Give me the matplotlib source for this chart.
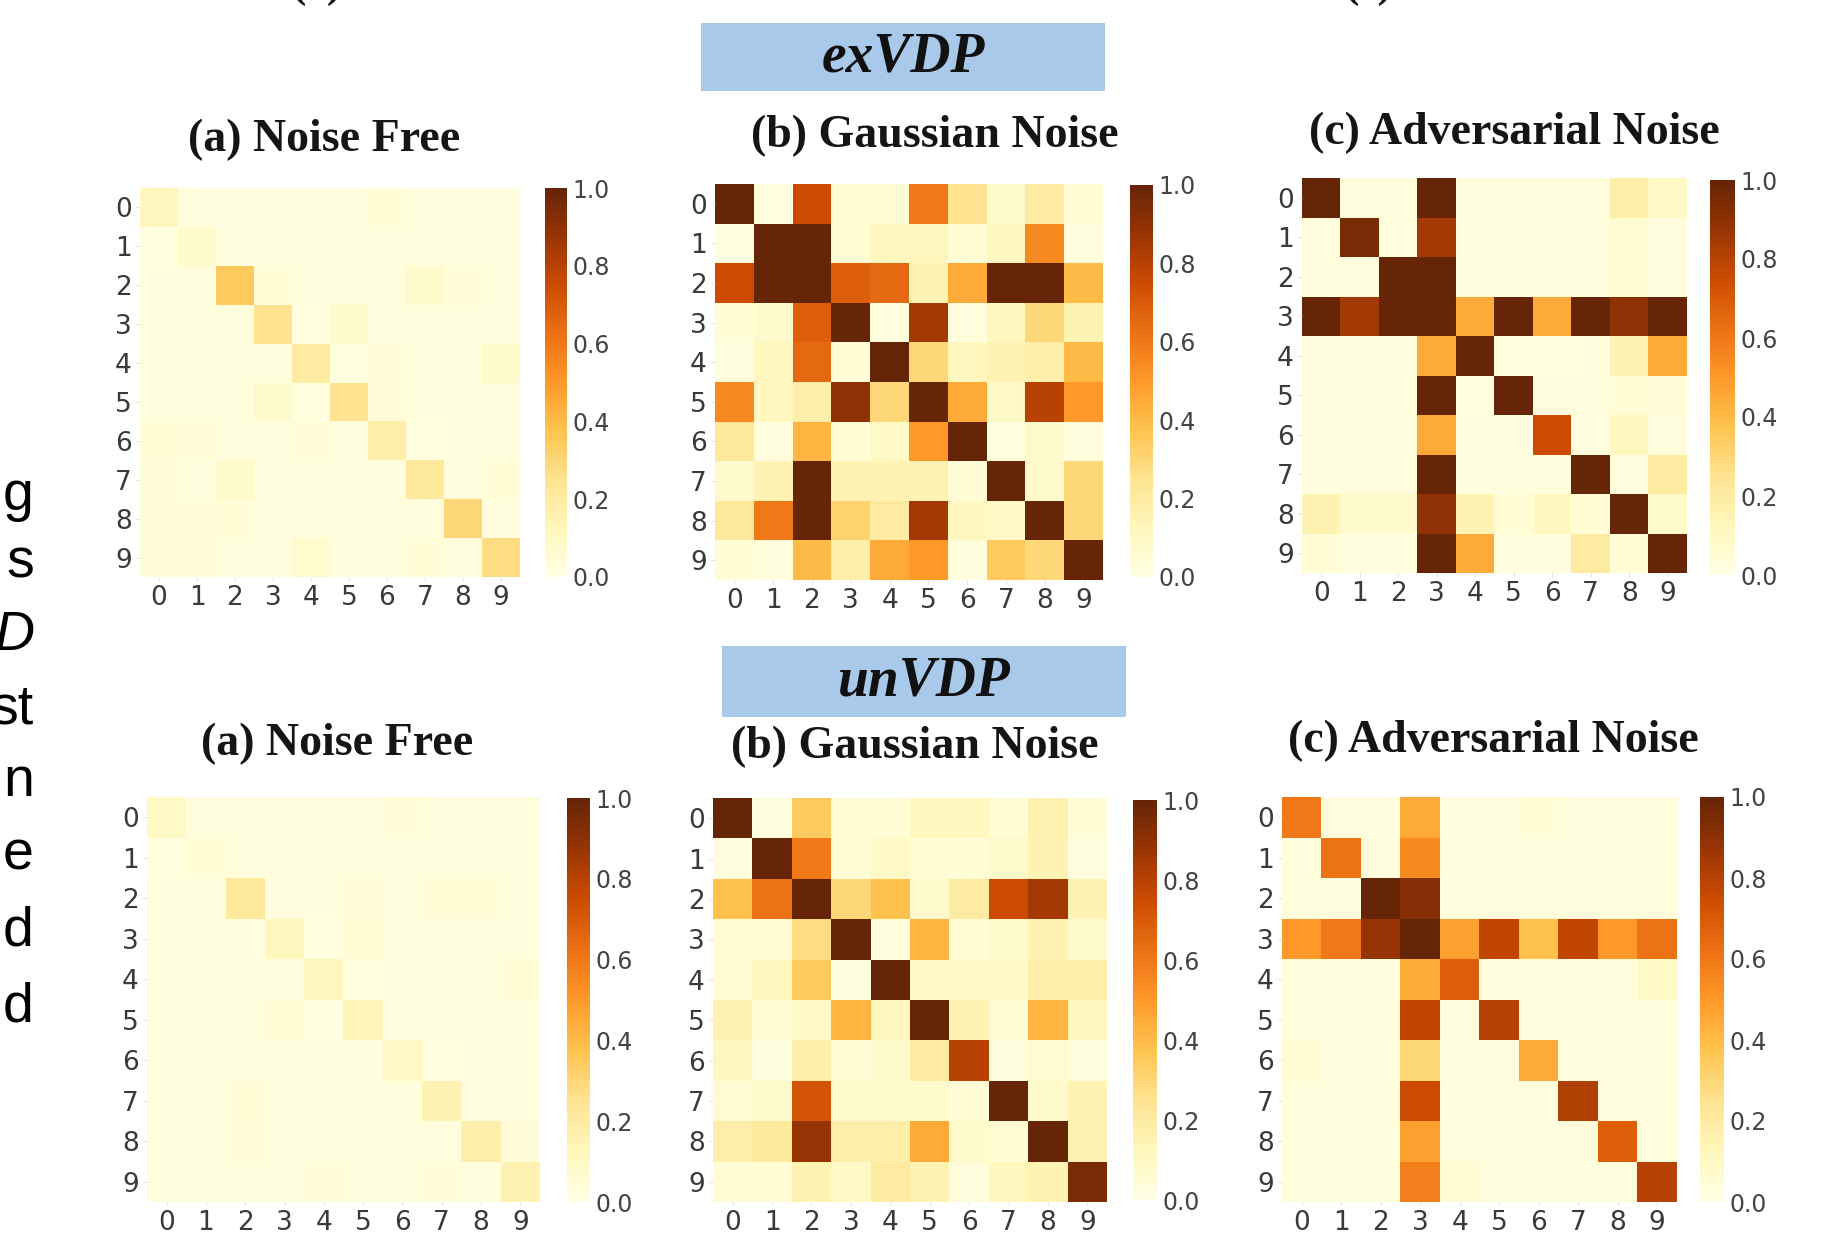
import numpy as np
import matplotlib
matplotlib.use("Agg")
import matplotlib.pyplot as plt
from matplotlib.patches import Rectangle

W, H = 1833, 1233

labels = [str(i) for i in range(10)]
cbar_ticks = [0.0, 0.2, 0.4, 0.6, 0.8, 1.0]

ex_free = [
    [0.12, 0.03, 0.03, 0.03, 0.03, 0.03, 0.05, 0.03, 0.03, 0.03],
    [0.02, 0.08, 0.03, 0.03, 0.03, 0.03, 0.03, 0.03, 0.03, 0.03],
    [0.03, 0.03, 0.35, 0.05, 0.03, 0.03, 0.03, 0.08, 0.04, 0.03],
    [0.03, 0.03, 0.03, 0.25, 0.02, 0.08, 0.03, 0.03, 0.03, 0.03],
    [0.03, 0.03, 0.03, 0.03, 0.20, 0.02, 0.04, 0.03, 0.03, 0.08],
    [0.03, 0.03, 0.03, 0.08, 0.02, 0.25, 0.04, 0.03, 0.03, 0.03],
    [0.05, 0.04, 0.03, 0.03, 0.04, 0.03, 0.18, 0.02, 0.03, 0.03],
    [0.04, 0.03, 0.08, 0.03, 0.03, 0.03, 0.03, 0.22, 0.03, 0.05],
    [0.04, 0.04, 0.05, 0.03, 0.03, 0.03, 0.03, 0.03, 0.30, 0.03],
    [0.04, 0.04, 0.03, 0.03, 0.07, 0.03, 0.03, 0.05, 0.03, 0.28],
]
ex_gauss = [
    [1.00, 0.02, 0.75, 0.05, 0.05, 0.60, 0.25, 0.08, 0.20, 0.05],
    [0.02, 1.00, 1.00, 0.05, 0.12, 0.12, 0.05, 0.12, 0.55, 0.03],
    [0.75, 1.00, 1.00, 0.68, 0.65, 0.15, 0.45, 1.00, 1.00, 0.40],
    [0.05, 0.08, 0.68, 1.00, 0.03, 0.85, 0.03, 0.12, 0.30, 0.15],
    [0.03, 0.12, 0.65, 0.05, 1.00, 0.30, 0.12, 0.15, 0.18, 0.40],
    [0.55, 0.12, 0.18, 0.90, 0.30, 1.00, 0.45, 0.10, 0.80, 0.50],
    [0.22, 0.03, 0.42, 0.05, 0.10, 0.50, 1.00, 0.02, 0.08, 0.03],
    [0.08, 0.15, 1.00, 0.15, 0.15, 0.15, 0.05, 1.00, 0.08, 0.30],
    [0.22, 0.60, 1.00, 0.32, 0.20, 0.85, 0.12, 0.10, 1.00, 0.30],
    [0.05, 0.03, 0.40, 0.18, 0.45, 0.50, 0.03, 0.35, 0.30, 1.00],
]
ex_adv = [
    [1.00, 0.03, 0.03, 1.00, 0.03, 0.03, 0.03, 0.03, 0.18, 0.10],
    [0.03, 0.95, 0.03, 0.85, 0.03, 0.03, 0.03, 0.03, 0.06, 0.03],
    [0.03, 0.03, 1.00, 1.00, 0.03, 0.03, 0.03, 0.03, 0.06, 0.03],
    [1.00, 0.85, 1.00, 1.00, 0.45, 1.00, 0.45, 1.00, 0.90, 1.00],
    [0.03, 0.03, 0.03, 0.45, 1.00, 0.02, 0.02, 0.03, 0.15, 0.45],
    [0.03, 0.03, 0.03, 1.00, 0.02, 1.00, 0.03, 0.03, 0.05, 0.04],
    [0.03, 0.03, 0.03, 0.45, 0.03, 0.03, 0.75, 0.03, 0.12, 0.03],
    [0.03, 0.03, 0.03, 1.00, 0.03, 0.03, 0.03, 1.00, 0.03, 0.20],
    [0.15, 0.08, 0.08, 0.90, 0.15, 0.05, 0.12, 0.05, 1.00, 0.08],
    [0.05, 0.03, 0.03, 1.00, 0.45, 0.03, 0.03, 0.20, 0.05, 1.00],
]
un_free = [
    [0.10, 0.03, 0.03, 0.03, 0.03, 0.03, 0.04, 0.03, 0.03, 0.03],
    [0.02, 0.05, 0.03, 0.03, 0.03, 0.03, 0.03, 0.03, 0.03, 0.03],
    [0.03, 0.03, 0.22, 0.03, 0.03, 0.04, 0.03, 0.05, 0.05, 0.03],
    [0.03, 0.03, 0.03, 0.12, 0.02, 0.06, 0.03, 0.03, 0.03, 0.03],
    [0.03, 0.03, 0.03, 0.03, 0.12, 0.02, 0.03, 0.03, 0.03, 0.05],
    [0.03, 0.03, 0.03, 0.05, 0.02, 0.14, 0.03, 0.03, 0.03, 0.03],
    [0.03, 0.03, 0.03, 0.03, 0.03, 0.03, 0.10, 0.02, 0.03, 0.03],
    [0.03, 0.03, 0.05, 0.03, 0.03, 0.03, 0.03, 0.15, 0.03, 0.03],
    [0.03, 0.03, 0.04, 0.03, 0.03, 0.03, 0.03, 0.03, 0.18, 0.04],
    [0.03, 0.03, 0.03, 0.03, 0.04, 0.03, 0.03, 0.04, 0.03, 0.15],
]
un_gauss = [
    [1.00, 0.03, 0.35, 0.05, 0.05, 0.12, 0.12, 0.05, 0.15, 0.05],
    [0.03, 1.00, 0.60, 0.05, 0.10, 0.06, 0.05, 0.08, 0.15, 0.03],
    [0.38, 0.62, 1.00, 0.30, 0.38, 0.08, 0.20, 0.75, 0.85, 0.15],
    [0.05, 0.05, 0.28, 1.00, 0.03, 0.42, 0.05, 0.08, 0.15, 0.08],
    [0.05, 0.12, 0.35, 0.03, 1.00, 0.10, 0.10, 0.10, 0.18, 0.18],
    [0.15, 0.06, 0.10, 0.42, 0.12, 1.00, 0.15, 0.05, 0.42, 0.12],
    [0.12, 0.03, 0.18, 0.05, 0.08, 0.20, 0.80, 0.03, 0.06, 0.03],
    [0.06, 0.08, 0.72, 0.08, 0.08, 0.08, 0.05, 1.00, 0.08, 0.15],
    [0.18, 0.22, 0.88, 0.18, 0.18, 0.45, 0.08, 0.06, 1.00, 0.15],
    [0.05, 0.05, 0.15, 0.10, 0.20, 0.15, 0.03, 0.12, 0.15, 0.95],
]
un_adv = [
    [0.60, 0.03, 0.03, 0.45, 0.03, 0.03, 0.05, 0.03, 0.03, 0.03],
    [0.03, 0.62, 0.03, 0.55, 0.03, 0.03, 0.03, 0.03, 0.03, 0.03],
    [0.03, 0.03, 1.00, 0.92, 0.03, 0.03, 0.03, 0.03, 0.03, 0.03],
    [0.50, 0.60, 0.88, 1.00, 0.48, 0.78, 0.38, 0.78, 0.50, 0.62],
    [0.03, 0.03, 0.03, 0.45, 0.68, 0.03, 0.03, 0.03, 0.03, 0.10],
    [0.03, 0.03, 0.03, 0.78, 0.03, 0.80, 0.03, 0.03, 0.03, 0.03],
    [0.06, 0.03, 0.03, 0.30, 0.03, 0.03, 0.45, 0.03, 0.03, 0.03],
    [0.03, 0.03, 0.03, 0.75, 0.03, 0.03, 0.03, 0.82, 0.03, 0.03],
    [0.03, 0.03, 0.03, 0.48, 0.03, 0.03, 0.03, 0.03, 0.68, 0.03],
    [0.03, 0.03, 0.03, 0.58, 0.06, 0.03, 0.03, 0.03, 0.03, 0.80],
]

panel_titles = ["(a) Noise Free", "(b) Gaussian Noise", "(c) Adversarial Noise"]
group_names = ["exVDP", "unVDP"]
side_letters = ["g", "s", "D", "st", "n", "e", "d", "d"]

matrices = [ex_free, ex_gauss, ex_adv, un_free, un_gauss, un_adv]

# layout in reference pixels: (x0, y0, x1, y1)
heat_boxes = [(140, 188, 520, 577), (715, 184, 1103, 580), (1302, 178, 1687, 573),
              (147, 797, 540, 1202), (713, 798, 1107, 1202), (1282, 797, 1677, 1202)]
cbar_boxes = [(545, 188, 567, 577), (1130, 185, 1153, 577), (1710, 180, 1735, 575),
              (567, 798, 590, 1202), (1133, 800, 1157, 1200), (1700, 797, 1724, 1202)]
title_pos = [(324, 140), (935, 136), (1514, 133), (337, 744), (915, 747), (1493, 741)]
banner_boxes = [(701, 23, 1105, 91), (722, 646, 1126, 717)]
side_baselines = [510, 578, 650, 724, 796, 870, 945, 1021]


def rect(b):
    x0, y0, x1, y1 = b
    return [x0 / W, 1 - y1 / H, (x1 - x0) / W, (y1 - y0) / H]


fig = plt.figure(figsize=(W / 100, H / 100), dpi=100)
fig.patch.set_facecolor("white")

tick_color = "#3a3a3a"
for i, m in enumerate(matrices):
    ax = fig.add_axes(rect(heat_boxes[i]))
    data = np.array(m)
    mesh = ax.pcolormesh(np.arange(11), np.arange(11), data, cmap="YlOrBr",
                         vmin=0, vmax=1)
    ax.set_xlim(0, 10)
    ax.set_ylim(10, 0)
    ax.set_xticks(np.arange(10) + 0.5)
    ax.set_yticks(np.arange(10) + 0.5)
    ax.set_xticklabels(labels)
    ax.set_yticklabels(labels)
    ax.tick_params(axis="both", length=3, width=0.6, color="#dddddd",
                   labelsize=19, labelcolor=tick_color, pad=3)
    for s in ax.spines.values():
        s.set_visible(False)

    cax = fig.add_axes(rect(cbar_boxes[i]))
    cb = fig.colorbar(mesh, cax=cax, ticks=cbar_ticks)
    cb.outline.set_visible(False)
    cb.ax.set_yticklabels([f"{t:.1f}" for t in cbar_ticks])
    cb.ax.tick_params(length=0, labelsize=17, labelcolor="#444444", pad=4)

    tx, ty = title_pos[i]
    fig.text(tx / W, 1 - ty / H, panel_titles[i % 3], family="Liberation Serif",
             fontweight="bold", fontsize=33, ha="center", va="center",
             color="#151515")

for j, b in enumerate(banner_boxes):
    x0, y0, x1, y1 = b
    fig.patches.append(Rectangle((x0 / W, 1 - y1 / H), (x1 - x0) / W, (y1 - y0) / H,
                                 transform=fig.transFigure, facecolor="#a9c9ea",
                                 edgecolor="none", zorder=0))
    fig.text((x0 + x1) / 2 / W, 1 - (y0 + y1) / 2 / H, group_names[j],
             family="Liberation Serif", fontweight="bold", style="italic",
             fontsize=40, ha="center", va="center", color="#111111")

# clipped slide text on the left edge
for letter, yb in zip(side_letters, side_baselines):
    fig.text(34 / W, 1 - yb / H, letter, family="Liberation Sans",
             style="italic" if letter == "D" else "normal",
             fontsize=40, ha="right", va="baseline", color="black")

# clipped captions at top edge
for lab, x in [("(a)", 316), ("(c)", 1368)]:
    fig.text(x / W, 1 + 3 / H, lab, family="Liberation Serif", fontweight="bold",
             fontsize=31, ha="center", va="baseline", color="#151515")

fig.savefig("out.png", dpi=100, facecolor="white")
